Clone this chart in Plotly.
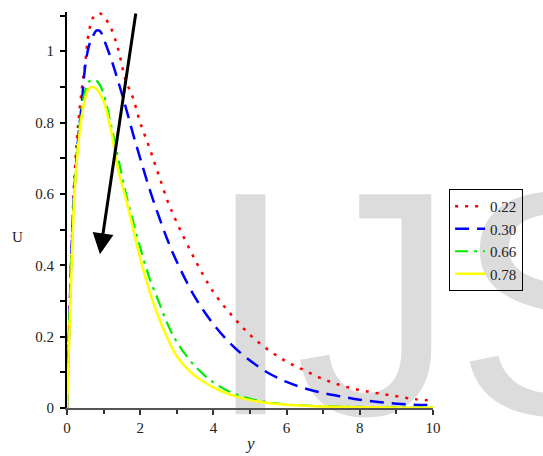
import plotly.graph_objects as go

# ---- data ----
y_grid = [0, 0.05, 0.1, 0.15, 0.2, 0.3, 0.4, 0.5, 0.6, 0.7, 0.8, 0.9, 1.0, 1.2, 1.4,
          1.6, 1.8, 2.0, 2.25, 2.5, 2.75, 3.0, 3.5, 4.0, 4.5, 5.0, 5.5, 6.0, 6.5,
          7.0, 7.5, 8.0, 8.5, 9.0, 9.5, 10.0]

u_022 = [0, 0.19, 0.37, 0.52, 0.64, 0.79, 0.89, 0.97, 1.055, 1.092, 1.104, 1.106, 1.098,
         1.065, 1.005, 0.92, 0.87, 0.80, 0.73, 0.655, 0.58, 0.52, 0.415, 0.325, 0.26,
         0.205, 0.163, 0.13, 0.105, 0.081, 0.063, 0.05, 0.041, 0.033, 0.025, 0.021]

u_030 = [0, 0.19, 0.37, 0.51, 0.61, 0.75, 0.85, 0.96, 1.015, 1.04, 1.058, 1.057, 1.035,
         0.98, 0.915, 0.845, 0.77, 0.70, 0.615, 0.54, 0.47, 0.41, 0.31, 0.235, 0.177,
         0.133, 0.098, 0.073, 0.055, 0.042, 0.032, 0.023, 0.017, 0.012, 0.009, 0.008]

u_066 = [0, 0.18, 0.35, 0.49, 0.6, 0.74, 0.84, 0.89, 0.915, 0.92, 0.918, 0.905, 0.88,
         0.795, 0.70, 0.605, 0.525, 0.45, 0.365, 0.30, 0.235, 0.185, 0.117, 0.072, 0.043,
         0.026, 0.016, 0.01, 0.007, 0.005, 0.004, 0.003, 0.002, 0.002, 0.001, 0.001]

u_078 = [0, 0.16, 0.32, 0.47, 0.59, 0.73, 0.816, 0.87, 0.895, 0.90, 0.895, 0.88, 0.86,
         0.78, 0.665, 0.59, 0.505, 0.42, 0.33, 0.255, 0.195, 0.145, 0.09, 0.058, 0.036,
         0.022, 0.014, 0.009, 0.006, 0.004, 0.003, 0.002, 0.002, 0.001, 0.001, 0.001]

series_names = ["0.22", "0.30", "0.66", "0.78"]
x_ticks = [0, 2, 4, 6, 8, 10]
y_ticks = [0, 0.2, 0.4, 0.6, 0.8, 1]
y_tick_text = ["0", "0.2", "0.4", "0.6", "0.8", "1"]

fig = go.Figure()

# watermark (below curves)
fig.add_trace(go.Scatter(
    x=[3.80], y=[0.655], mode="text", text=["IJS"], textposition="bottom right",
    textfont=dict(family="Liberation Sans", size=320, color="#dcdcdc"),
    showlegend=False, hoverinfo="skip", cliponaxis=False))

styles = [
    dict(color="#ff0000", dash="3px,7px", width=2.5),
    dict(color="#0000ff", dash="14px,8px", width=2.5),
    dict(color="#00ee00", dash="13px,6px,3px,6px", width=2.2),
    dict(color="#ffff00", dash="solid", width=2.5),
]
for name, u, st in zip(series_names, [u_022, u_030, u_066, u_078], styles):
    fig.add_trace(go.Scatter(x=y_grid, y=u, mode="lines", name=name, line=st,
                             line_shape="spline"))

fig.add_annotation(x=0.90, y=0.431, ax=1.885, ay=1.11, xref="x", yref="y",
                   axref="x", ayref="y", text="", showarrow=True, arrowhead=2,
                   arrowsize=1.4, arrowwidth=3, arrowcolor="black", standoff=0)

fig.add_annotation(text="U", x=(18 - 67) / 366, y=(408 - 237) / 396, xref="paper", yref="paper",
                   xanchor="center", yanchor="middle", showarrow=False,
                   font=dict(family="Liberation Serif", size=15, color="#222"))
fig.add_annotation(text="<i>y</i>", x=(250 - 67) / 366, y=(408 - 443) / 396,
                   xref="paper", yref="paper", xanchor="center", yanchor="middle",
                   showarrow=False, font=dict(family="Liberation Serif", size=17, color="#222"))

fig.update_layout(
    width=543, height=456,
    margin=dict(l=67, r=110, t=12, b=48),
    paper_bgcolor="white", plot_bgcolor="white",
    showlegend=True,
    legend=dict(x=1.044, y=0.553, xanchor="left", yanchor="top",
                bordercolor="black", borderwidth=1, bgcolor="rgba(0,0,0,0)",
                font=dict(family="Liberation Serif", size=15, color="#222"),
                tracegroupgap=0),
    xaxis=dict(range=[0, 10], tickvals=x_ticks, showgrid=False, zeroline=False,
               showline=True, linecolor="#555", linewidth=2,
               ticks="outside", ticklen=5, tickwidth=1.5, tickcolor="#333",
               minor=dict(dtick=1, ticks="outside", ticklen=4, tickcolor="#333", showgrid=False),
               tickfont=dict(family="Liberation Serif", size=15, color="#222")),
    yaxis=dict(range=[0, 1.11], tickvals=y_ticks, ticktext=y_tick_text,
               showgrid=False, zeroline=False,
               showline=True, linecolor="black", linewidth=2,
               ticks="outside", ticklen=5, tickwidth=1.5, tickcolor="black",
               ticklabelstandoff=3,
               minor=dict(dtick=0.1, ticks="outside", ticklen=5, tickcolor="black", showgrid=False),
               tickfont=dict(family="Liberation Serif", size=15, color="#222")),
)

fig.write_html("out.html")
